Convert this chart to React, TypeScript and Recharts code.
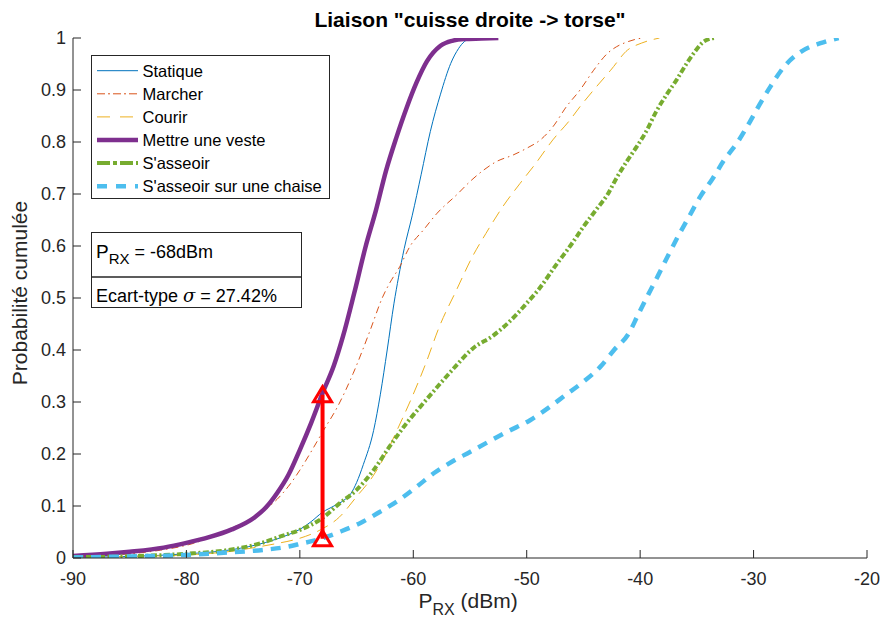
import React from 'react';
import { LineChart, Line, XAxis, YAxis } from 'recharts';

// ---------- data ----------
const xTicks = [-90, -80, -70, -60, -50, -40, -30, -20];
const yTicks = [0, 0.1, 0.2, 0.3, 0.4, 0.5, 0.6, 0.7, 0.8, 0.9, 1];

const statiqueX = [-90, -85, -80, -76, -73, -71, -70, -69, -68, -67, -66, -65.5, -65, -64.4, -63.5, -62.9, -62.3, -61.7, -61.3, -60.8, -60.1, -59.3, -58.5, -57.6, -56.7, -56, -55.5, -55, -54];
const statiqueY = [0.001, 0.003, 0.008, 0.016, 0.03, 0.045, 0.055, 0.07, 0.088, 0.1, 0.113, 0.124, 0.145, 0.18, 0.245, 0.315, 0.4, 0.49, 0.54, 0.595, 0.658, 0.738, 0.82, 0.892, 0.951, 0.98, 0.993, 0.998, 1.0];

const marcherX = [-90, -85, -82.3, -79.4, -76.4, -73.5, -72, -71, -70, -69.1, -67.9, -66.7, -65.3, -63.8, -62.7, -62.1, -61.2, -60.3, -59.1, -57.9, -56.1, -55, -53.8, -52.7, -51.2, -50, -48.8, -47.7, -46.5, -45.3, -44.1, -42.9, -42.1, -41.2, -40.3, -39.8];
const marcherY = [0.003, 0.008, 0.015, 0.028, 0.054, 0.086, 0.113, 0.138, 0.169, 0.201, 0.246, 0.29, 0.355, 0.438, 0.502, 0.528, 0.56, 0.599, 0.631, 0.663, 0.7, 0.724, 0.746, 0.762, 0.775, 0.788, 0.804, 0.829, 0.868, 0.9, 0.938, 0.97, 0.983, 0.992, 0.998, 1.0];

const courirX = [-90, -85, -80, -76, -73.5, -72, -70, -68.2, -66.5, -65, -63.6, -62.4, -61.3, -60.1, -58.9, -57.7, -56.2, -54.8, -53.6, -52.1, -50.6, -49.2, -47.7, -46.2, -45.3, -44.1, -42.6, -41.1, -39.9, -38.3];
const courirY = [0.001, 0.003, 0.006, 0.013, 0.022, 0.028, 0.038, 0.054, 0.079, 0.118, 0.156, 0.201, 0.252, 0.31, 0.374, 0.445, 0.515, 0.579, 0.624, 0.676, 0.72, 0.759, 0.804, 0.842, 0.868, 0.9, 0.938, 0.977, 0.99, 1.0];

const vesteX = [-90, -87, -85, -82, -80, -78, -76, -74, -73, -72, -71, -70, -69, -68, -67, -66.2, -65.2, -64.2, -63.3, -62.4, -61.5, -60.6, -59.7, -58.8, -57.6, -56.5, -55.5, -54, -52.5];
const vesteY = [0.004, 0.008, 0.012, 0.02, 0.029, 0.04, 0.055, 0.078, 0.097, 0.125, 0.16, 0.208, 0.26, 0.317, 0.37, 0.426, 0.51, 0.599, 0.668, 0.745, 0.808, 0.865, 0.915, 0.955, 0.985, 0.995, 0.998, 0.999, 1.0];

const asseoirX = [-90, -88, -84, -79.4, -76.4, -73.5, -71.5, -70, -68, -66.5, -65, -63.5, -62.1, -60.6, -59.1, -57.6, -56.3, -54.7, -53, -51.5, -50, -49, -47.3, -46.2, -45, -43.8, -42.9, -42.1, -41.2, -40.3, -39.4, -38.6, -37.7, -36.8, -35.9, -35.3, -34.4, -33.5];
const asseoirY = [0.002, 0.002, 0.004, 0.009, 0.015, 0.028, 0.043, 0.054, 0.077, 0.105, 0.131, 0.169, 0.214, 0.259, 0.298, 0.336, 0.368, 0.404, 0.427, 0.455, 0.49, 0.515, 0.567, 0.599, 0.637, 0.672, 0.698, 0.73, 0.762, 0.791, 0.823, 0.858, 0.89, 0.919, 0.951, 0.97, 0.993, 1.0];

const chaiseX = [-90, -85, -80, -76, -73, -71, -70, -68, -66.4, -64.7, -63, -61.3, -59.7, -58.2, -56.6, -55, -53.5, -51.7, -49.7, -48, -46.6, -45, -43.5, -42.3, -41, -40.2, -39.3, -38.4, -37.5, -36.6, -35.7, -34.7, -33.6, -32.6, -31.4, -30.4, -29.5, -28.5, -27.3, -25.8, -24.1, -22.5];
const chaiseY = [0.001, 0.003, 0.006, 0.011, 0.016, 0.022, 0.027, 0.038, 0.051, 0.067, 0.088, 0.111, 0.137, 0.163, 0.185, 0.204, 0.222, 0.243, 0.265, 0.29, 0.313, 0.339, 0.368, 0.4, 0.432, 0.467, 0.506, 0.544, 0.583, 0.621, 0.656, 0.695, 0.73, 0.765, 0.8, 0.836, 0.871, 0.907, 0.945, 0.974, 0.99, 1.0];

const arrowX = [-68, -68];
const arrowY = [0.037, 0.314];

const prxLabel = '-68dBm';
const sigmaLabel = '27.42%';

// ---------- styles ----------
const FONT = '"Liberation Sans", Arial, Helvetica, sans-serif';
const AXIS = '#262626';
const TICK_LEN = 8;

const toPts = (xs: number[], ys: number[]) => xs.map((x, i) => ({ x, y: ys[i] }));

const SERIES = [
  { name: 'Statique', color: '#0072BD', width: 1, dash: undefined, legendDash: undefined, xs: statiqueX, ys: statiqueY },
  { name: 'Marcher', color: '#D95319', width: 1, dash: '7 4 1.5 4', legendDash: '8 3 2 3', xs: marcherX, ys: marcherY },
  { name: 'Courir', color: '#EDB120', width: 1, dash: '12 7', legendDash: '13 10', xs: courirX, ys: courirY },
  { name: 'Mettre une veste', color: '#7E2F8E', width: 4.5, dash: undefined, legendDash: undefined, xs: vesteX, ys: vesteY },
  { name: "S'asseoir", color: '#77AC30', width: 4, dash: '6 2.5 2 2.5', legendDash: '13 3 4 3', xs: asseoirX, ys: asseoirY },
  { name: "S'asseoir sur une chaise", color: '#4DBEEE', width: 4.5, dash: '10 8', legendDash: '10 9', xs: chaiseX, ys: chaiseY },
];

const fmtY = (v: number) => String(Number(v.toFixed(1)));

const BottomTick = (p: any) => (
  <g>
    <line x1={p.x} y1={p.y} x2={p.x} y2={p.y - TICK_LEN} stroke={AXIS} />
    <text x={p.x} y={p.y + 27} textAnchor="middle" fontSize={18} fontFamily={FONT} fill={AXIS}>{p.payload.value}</text>
  </g>
);
const TopTick = (p: any) => (
  <line x1={p.x} y1={p.y} x2={p.x} y2={p.y + TICK_LEN} stroke={AXIS} />
);
const LeftTick = (p: any) => (
  <g>
    <line x1={p.x} y1={p.y} x2={p.x + TICK_LEN} y2={p.y} stroke={AXIS} />
    <text x={p.x - 7} y={p.y + 6} textAnchor="end" fontSize={18} fontFamily={FONT} fill={AXIS}>{fmtY(p.payload.value)}</text>
  </g>
);
const RightTick = (p: any) => (
  <line x1={p.x} y1={p.y} x2={p.x - TICK_LEN} y2={p.y} stroke={AXIS} />
);

const Triangle = (p: any) => {
  const { cx, cy } = p;
  if (cx == null || cy == null) return <g />;
  return <path d={`M${cx - 9},${cy + 7} L${cx + 9},${cy + 7} L${cx},${cy - 8} Z`} fill="none" stroke="#FF0000" strokeWidth={3} strokeLinejoin="miter" />;
};

const Overlay = () => {
  const lx = 91.5, ly = 55.5, lw = 238, lh = 143;
  const rowH = 23.1;
  return (
    <svg width={882} height={621} style={{ position: 'absolute', left: 0, top: 0, pointerEvents: 'none' }} fontFamily={FONT}>
      {/* title */}
      <text x={470} y={27} textAnchor="middle" fontSize={21} fontWeight="bold" fill="#000">Liaison "cuisse droite -&gt; torse"</text>
      {/* x label */}
      <text x={468} y={608} textAnchor="middle" fontSize={21} fill={AXIS}>
        P<tspan fontSize={16} dy={7}>RX</tspan><tspan dy={-7}> (dBm)</tspan>
      </text>
      {/* y label */}
      <text x={0} y={0} transform="translate(27,293) rotate(-90)" textAnchor="middle" fontSize={21} fill={AXIS}>Probabilité cumulée</text>
      {/* legend */}
      <rect x={lx} y={ly} width={lw} height={lh} fill="#fff" stroke="#262626" strokeWidth={1} />
      {SERIES.map((s, i) => {
        const cy = 70.7 + i * rowH;
        return (
          <g key={s.name}>
            <line x1={97} x2={138} y1={cy} y2={cy} stroke={s.color} strokeWidth={s.width} strokeDasharray={s.legendDash} />
            <text x={142.5} y={cy + 6} fontSize={16.5} fill="#000">{s.name}</text>
          </g>
        );
      })}
      {/* annotation box */}
      <rect x={91.5} y={232.5} width={210} height={75} fill="#fff" stroke="#262626" strokeWidth={1} />
      <line x1={91.5} x2={301.5} y1={277} y2={277} stroke="#262626" strokeWidth={1.5} />
      <text x={96} y={258} fontSize={19} fill="#000">
        P<tspan fontSize={15} dy={6}>RX</tspan><tspan dy={-6} fontSize={18}> = {prxLabel}</tspan>
      </text>
      <text x={96} y={302} fontSize={18} fill="#000">
        Ecart-type <tspan fontStyle="italic" fontFamily="'DejaVu Serif', serif">σ</tspan> = {sigmaLabel}
      </text>
    </svg>
  );
};

export default function App() {
  return (
    <div style={{ position: 'absolute', left: 0, top: 0, width: 882, height: 621, background: '#fff' }}>
      <LineChart width={882} height={621} margin={{ top: 38, right: 15, left: 0, bottom: 0 }}>
        <XAxis xAxisId={0} type="number" dataKey="x" domain={[-90, -20]} ticks={xTicks} interval={0}
          height={63} tickSize={0} tickMargin={0} tickLine={false} axisLine={{ stroke: AXIS }} tick={<BottomTick />} allowDataOverflow />
        <XAxis xAxisId="top" orientation="top" type="number" dataKey="x" domain={[-90, -20]} ticks={xTicks} interval={0}
          height={0} tickSize={0} tickMargin={0} tickLine={false} axisLine={{ stroke: AXIS }} tick={<TopTick />} allowDataOverflow />
        <YAxis yAxisId={0} type="number" domain={[0, 1]} ticks={yTicks} interval={0}
          width={73} tickSize={0} tickMargin={0} tickLine={false} axisLine={{ stroke: AXIS }} tick={<LeftTick />} allowDataOverflow />
        <YAxis yAxisId="right" orientation="right" type="number" domain={[0, 1]} ticks={yTicks} interval={0}
          width={0} tickSize={0} tickMargin={0} tickLine={false} axisLine={{ stroke: AXIS }} tick={<RightTick />} allowDataOverflow />
        {SERIES.map((s) => (
          <Line key={s.name} name={s.name} data={toPts(s.xs, s.ys)} dataKey="y" type="monotone"
            stroke={s.color} strokeWidth={s.width} strokeDasharray={s.dash} dot={false}
            isAnimationActive={false} />
        ))}
        <Line name="arrow" data={toPts(arrowX, arrowY)} dataKey="y" type="linear" stroke="#FF0000" strokeWidth={4}
          dot={<Triangle />} activeDot={false} isAnimationActive={false} legendType="none" />
      </LineChart>
      <Overlay />
    </div>
  );
}
